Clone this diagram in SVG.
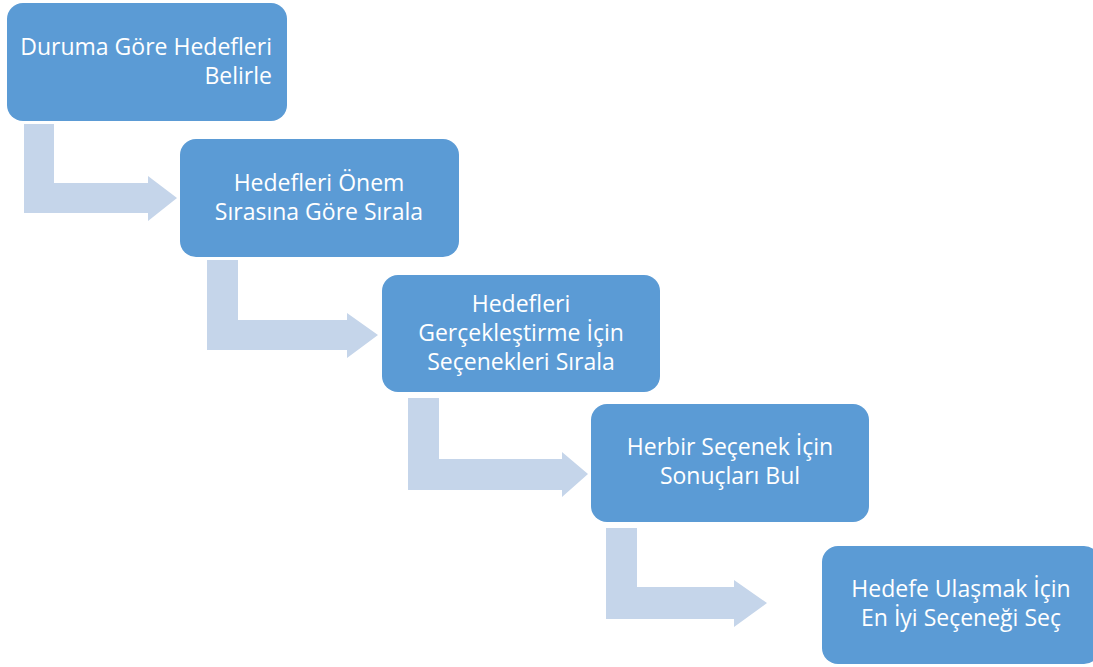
<svg xmlns="http://www.w3.org/2000/svg" width="1093" height="667" viewBox="0 0 1093 667">
<style>
.box{fill:#5B9BD5;}
.arr{fill:#C5D5EA;}
.t{font-family:"Open Sans","Liberation Sans",sans-serif;font-size:23px;fill:#FFFFFF;}
.c{text-anchor:middle;}
.r{text-anchor:end;}
</style>
<rect width="1093" height="667" fill="#FFFFFF"/>
<g id="connectors">
<path class="arr" d="M24,124 H54 V183 H148 V176 L177,198 L148,221 V213 H24 Z"/>
<path class="arr" d="M207,260 H238 V320 H347 V313 L378,335 L347,358 V350 H207 Z"/>
<path class="arr" d="M408,398 H439 V459 H562 V452 L588,474 L562,497 V490 H408 Z"/>
<path class="arr" d="M606,528 H637 V587 H734 V580 L767,603 L734,627 V619 H606 Z"/>
</g>
<g id="n1">
<rect class="box" x="7" y="3" width="280" height="118" rx="16"/>
<text class="t r" x="272" y="55">Duruma Göre Hedefleri</text>
<text class="t r" x="272" y="84">Belirle</text>
</g>
<g id="n2">
<rect class="box" x="180" y="139" width="279" height="118" rx="16"/>
<text class="t c" x="319" y="191">Hedefleri Önem</text>
<text class="t c" x="319" y="220">Sırasına Göre Sırala</text>
</g>
<g id="n3">
<rect class="box" x="382" y="275" width="278" height="117" rx="16"/>
<text class="t c" x="521" y="312">Hedefleri</text>
<text class="t c" x="521" y="341">Gerçekleştirme İçin</text>
<text class="t c" x="521" y="370">Seçenekleri Sırala</text>
</g>
<g id="n4">
<rect class="box" x="591" y="404" width="278" height="118" rx="16"/>
<text class="t c" x="730" y="455">Herbir Seçenek İçin</text>
<text class="t c" x="730" y="484">Sonuçları Bul</text>
</g>
<g id="n5">
<rect class="box" x="822" y="546" width="278" height="118" rx="16"/>
<text class="t c" x="961" y="597">Hedefe Ulaşmak İçin</text>
<text class="t c" x="961" y="626">En İyi Seçeneği Seç</text>
</g>
</svg>
